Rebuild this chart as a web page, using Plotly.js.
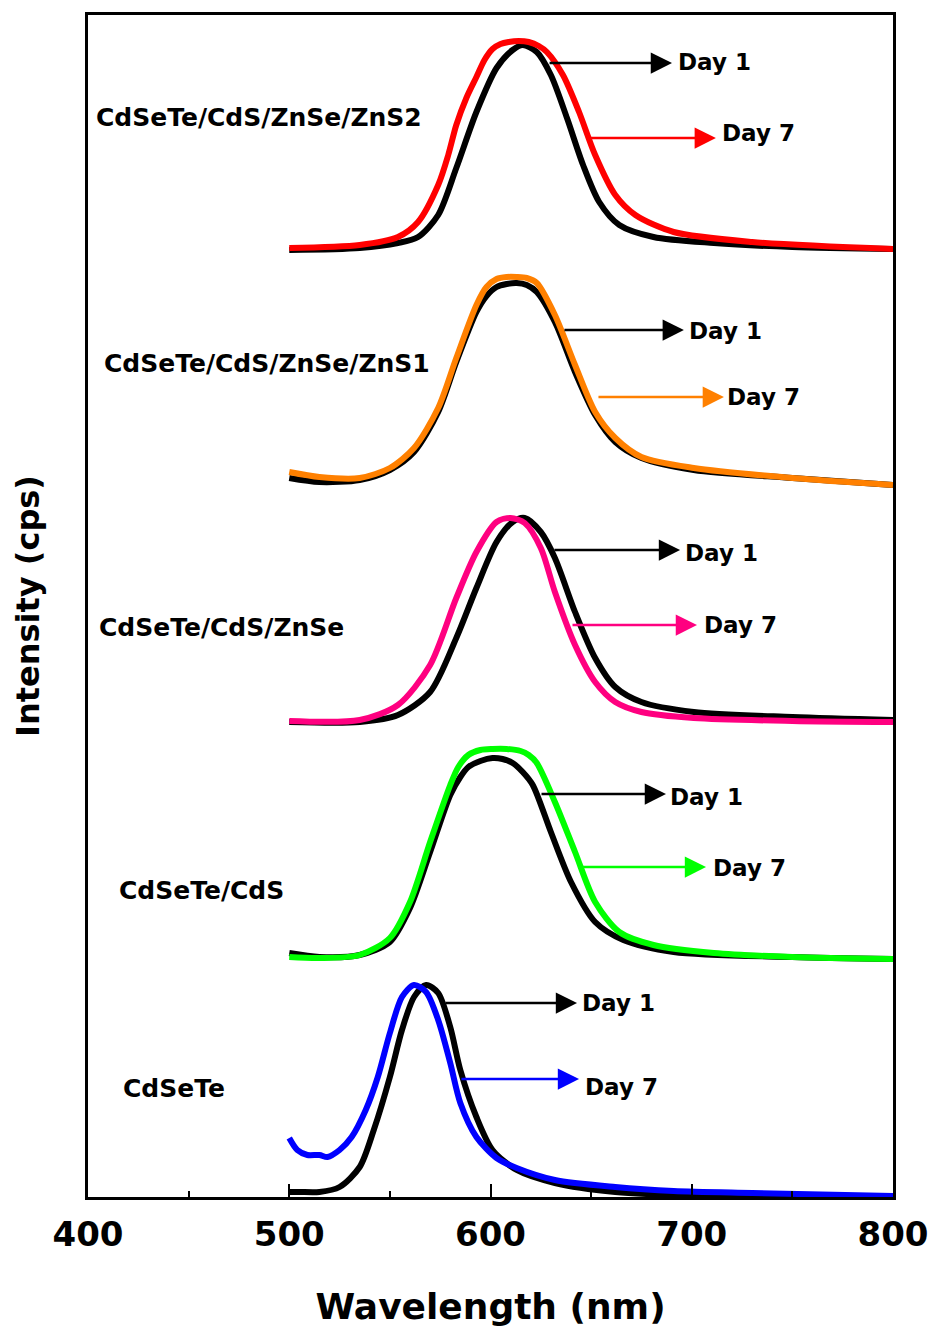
<!DOCTYPE html>
<html>
<head>
<meta charset="utf-8">
<script src="https://cdn.plot.ly/plotly-3.0.1.min.js"></script>
<style>html,body{margin:0;padding:0;background:#fff;}</style>
</head>
<body>
<div id="chart" style="width:932px;height:1329px;"></div>
<script>
// ---- Data (intensity in stacked/offset arbitrary units) ----
// CdSeTe/CdS/ZnSe/ZnS2
const wlS2Day1 = [500, 535, 554, 564, 574, 583, 593, 603, 611, 616, 623, 630, 638, 646, 654, 664, 681, 711, 750, 800];
const intS2Day1 = [947, 949, 954, 960, 982, 1029, 1085, 1129, 1147, 1152, 1145, 1122, 1079, 1032, 995, 972, 960, 954, 950, 948];
const wlS2Day7 = [500, 535, 554, 564, 574, 579, 583, 588, 593, 597, 601, 605, 609, 614, 619, 624, 628, 636, 644, 652, 662, 672, 691, 730, 800];
const intS2Day7 = [949, 952, 960, 975, 1012, 1042, 1072, 1099, 1120, 1137, 1148, 1153, 1155, 1156, 1155, 1151, 1145, 1122, 1085, 1042, 1002, 982, 965, 955, 948];

// CdSeTe/CdS/ZnSe/ZnS1
const wlS1 = [500, 515, 535, 550, 562, 574, 583, 593, 598, 603, 608, 613, 618, 623, 632, 642, 652, 662, 675, 701, 750, 800];
const intS1Day1 = [719, 715, 717, 727, 745, 785, 835, 885, 901, 910, 913, 914, 912, 905, 875, 825, 782, 755, 739, 727, 719, 712];
const intS1Day7 = [725, 720, 719, 729, 749, 789, 839, 892, 910, 918, 920, 920, 919, 914, 882, 832, 785, 759, 740, 729, 719, 712];

// CdSeTe/CdS/ZnSe
const wlZnSeDay1 = [500, 535, 554, 570, 583, 593, 603, 611, 617, 625, 632, 642, 652, 662, 675, 701, 750, 800];
const intZnSeDay1 = [475, 475, 482, 505, 559, 609, 655, 675, 679, 665, 639, 585, 539, 510, 495, 485, 480, 477];
const wlZnSeDay7 = [500, 535, 554, 570, 583, 593, 603, 610, 617, 625, 632, 642, 652, 662, 675, 701, 750, 800];
const intZnSeDay7 = [476, 477, 492, 532, 599, 645, 675, 679, 674, 649, 605, 552, 515, 495, 485, 479, 476, 475];

// CdSeTe/CdS
const wlCdSDay1 = [500, 515, 535, 550, 560, 570, 580, 585, 589, 595, 601, 606, 611, 616, 621, 630, 640, 652, 666, 691, 750, 800];
const intCdSDay1 = [244, 240, 242, 255, 289, 345, 402, 420, 430, 436, 439, 438, 434, 425, 412, 365, 315, 275, 257, 245, 240, 238];
const wlCdSDay7 = [500, 515, 535, 550, 560, 570, 580, 584, 589, 595, 601, 608, 615, 619, 623, 632, 642, 652, 664, 681, 711, 750, 800];
const intCdSDay7 = [240, 239, 242, 259, 295, 355, 412, 430, 442, 447, 448, 448, 446, 442, 434, 395, 345, 295, 265, 252, 244, 240, 238];

// CdSeTe
const wlCoreDay1 = [500, 505, 515, 525, 535, 542, 550, 556, 562, 568, 574, 580, 585, 593, 601, 613, 632, 662, 691, 800];
const intCoreDay1 = [5, 5, 5, 10, 30, 67, 120, 167, 200, 212, 204, 170, 127, 80, 47, 27, 14, 5, 2, 0];
const wlCoreDay7 = [500, 504, 509, 515, 519, 525, 531, 538, 544, 550, 556, 562, 568, 574, 580, 585, 593, 603, 613, 632, 662, 691, 730, 800];
const intCoreDay7 = [59, 47, 42, 42, 40, 47, 60, 87, 120, 164, 200, 212, 205, 177, 134, 94, 60, 39, 29, 17, 10, 6, 4, 1];

const sampleNames = ["CdSeTe/CdS/ZnSe/ZnS2", "CdSeTe/CdS/ZnSe/ZnS1", "CdSeTe/CdS/ZnSe", "CdSeTe/CdS", "CdSeTe"];
const sampleColors = ["#ff0000", "#ff8000", "#ff0080", "#00ff00", "#0000ff"];
const dayLabels = ["Day 1", "Day 7"];
const xTickVals = [400, 500, 600, 700, 800];
const xTickText = ["400", "500", "600", "700", "800"];

// label placement (wavelength, intensity) for sample names
const sampleLabelX = [403, 407, 404.5, 414.5, 416.5];
const sampleLabelY = [1080, 834, 570, 307, 109];
// arrow tails / heads / y (Day 1 then Day 7 for each sample)
const arrowTailX = [[628.6, 648.4], [636, 652.9], [631, 640], [624.6, 644.5], [576.9, 584.8]];
const arrowHeadX = [[690.2, 712], [696.1, 716], [694.2, 702.6], [687.2, 707.1], [643, 644]];
const arrowY = [[1134, 1059], [867, 800], [647, 572], [403, 330], [194, 118]];
const dayTextX = [[692.2, 714], [697.6, 716.5], [695.6, 705.1], [688.2, 709.6], [644.5, 646]];
const dayTextY = [[1135, 1064], [866, 800], [644, 572], [400, 329], [194, 110]];

const FONT = "DejaVu Sans, Arial, sans-serif";
const LW = 6;

const series = [
  [wlS2Day1, intS2Day1, wlS2Day7, intS2Day7],
  [wlS1, intS1Day1, wlS1, intS1Day7],
  [wlZnSeDay1, intZnSeDay1, wlZnSeDay7, intZnSeDay7],
  [wlCdSDay1, intCdSDay1, wlCdSDay7, intCdSDay7],
  [wlCoreDay1, intCoreDay1, wlCoreDay7, intCoreDay7]
];

const traces = [];
series.forEach((s, i) => {
  traces.push({x: s[0], y: s[1], mode: 'lines', line: {color: '#000000', width: LW, shape: 'spline', smoothing: 0.8}, name: sampleNames[i] + ' ' + dayLabels[0], hoverinfo: 'skip'});
  traces.push({x: s[2], y: s[3], mode: 'lines', line: {color: sampleColors[i], width: LW, shape: 'spline', smoothing: 0.8}, name: sampleNames[i] + ' ' + dayLabels[1], hoverinfo: 'skip'});
});

const annotations = [];
sampleNames.forEach((nm, i) => {
  annotations.push({x: sampleLabelX[i], y: sampleLabelY[i], xref: 'x', yref: 'y', text: nm, showarrow: false,
    xanchor: 'left', yanchor: 'middle', font: {family: FONT, size: 25, color: '#000', weight: 'bold'}});
  for (let d = 0; d < 2; d++) {
    const col = d === 0 ? '#000000' : sampleColors[i];
    annotations.push({x: arrowHeadX[i][d], y: arrowY[i][d], ax: arrowTailX[i][d], ay: arrowY[i][d],
      xref: 'x', yref: 'y', axref: 'x', ayref: 'y', text: '', showarrow: true,
      arrowhead: 2, arrowsize: 1.7, arrowwidth: 2.5, arrowcolor: col, standoff: 0, startstandoff: 0});
    annotations.push({x: dayTextX[i][d], y: dayTextY[i][d], xref: 'x', yref: 'y', text: dayLabels[d], showarrow: false,
      xanchor: 'left', yanchor: 'middle', font: {family: FONT, size: 23, color: '#000', weight: 'bold'}});
  }
});

const layout = {
  width: 932, height: 1329,
  margin: {l: 88, r: 39, t: 15, b: 132},
  paper_bgcolor: '#ffffff', plot_bgcolor: '#ffffff',
  showlegend: false,
  xaxis: {
    range: [400, 800], tickvals: xTickVals, ticktext: xTickText,
    ticks: 'inside', ticklen: 13, tickwidth: 2, tickcolor: '#000',
    minor: {dtick: 50, ticks: 'inside', ticklen: 6, tickwidth: 2, tickcolor: '#000', showgrid: false},
    showline: true, linewidth: 3, linecolor: '#000', mirror: true,
    showgrid: false, zeroline: false,
    ticklabelstandoff: 5,
    tickfont: {family: FONT, size: 34, color: '#000', weight: 'bold'},
    title: {text: 'Wavelength (nm)', font: {family: FONT, size: 36, color: '#000', weight: 'bold'}, standoff: 42},
    automargin: false
  },
  yaxis: {
    range: [0, 1182], showticklabels: false, ticks: '',
    showline: true, linewidth: 3, linecolor: '#000', mirror: true,
    showgrid: false, zeroline: false,
    title: {text: 'Intensity (cps)', font: {family: FONT, size: 32, color: '#000', weight: 'bold'}, standoff: 36},
    automargin: false
  },
  annotations: annotations
};

Plotly.newPlot('chart', traces, layout, {displayModeBar: false, staticPlot: true});
</script>
</body>
</html>
